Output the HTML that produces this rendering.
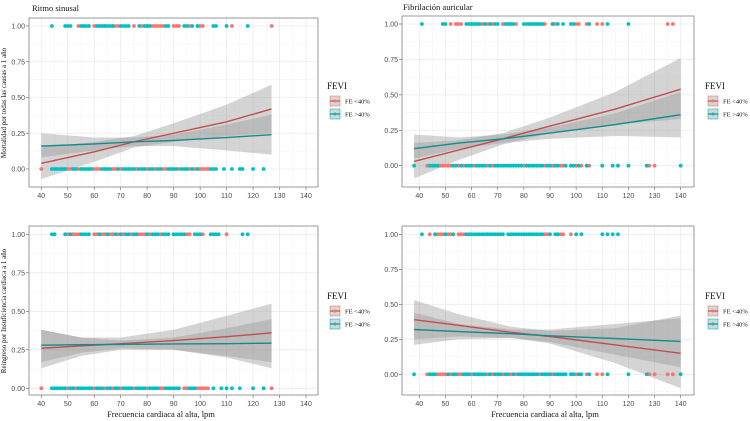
<!DOCTYPE html>
<html><head><meta charset="utf-8"><style>
body{margin:0;background:#fff;}
svg{display:block;font-family:"Liberation Serif",serif;}
</style></head><body>
<svg id="c" width="750" height="421"></svg>
<script>
const xTicks=[40,50,60,70,80,90,100,110,120,130,140];
const yTicks=[0,0.25,0.5,0.75,1];
const yTickLabels=["0.00","0.25","0.50","0.75","1.00"];
const groups=["FE <40%","FE >40%"];
// panel 1: Ritmo sinusal / mortalidad
const p1BandX=[40,60,75,90,110,127];
const p1RedFit=[0.04,0.12,0.19,0.25,0.33,0.42];
const p1RedLo=[-0.07,0.05,0.15,0.19,0.23,0.25];
const p1RedHi=[0.15,0.19,0.23,0.32,0.45,0.59];
const p1TealFit=[0.16,0.175,0.19,0.20,0.22,0.24];
const p1TealLo=[0.08,0.13,0.16,0.16,0.13,0.10];
const p1TealHi=[0.25,0.22,0.22,0.24,0.31,0.38];
const p1Red1=[54,56,60,62,64,67,68,69,75,78,80,82,83,84,85,86,90,91,92,96,100,101,112,127];
const p1Teal1=[44,49,50,51,55,56,57,58,61,62,63,64,65,66,67,70,71,72,73,77,79,80,81,87,88,94,95,97,99,105,106,110,118];
const p1Red0=[40,50,51,54,60,61,62,67,68,70,76,80,83,86,87,92,96,98,100,101,102,103];
const p1Teal0=[44,45,46,47,48,49,52,53,55,56,57,58,59,63,64,65,66,69,71,72,73,74,75,77,78,79,81,82,84,85,88,89,90,91,93,94,95,97,99,104,105,106,109,112,115,116,120,124];
// panel 2: Ritmo sinusal / reingreso
const p2BandX=[40,55,70,90,110,127];
const p2RedFit=[0.26,0.275,0.29,0.31,0.335,0.36];
const p2RedLo=[0.13,0.21,0.25,0.25,0.20,0.13];
const p2RedHi=[0.38,0.33,0.33,0.38,0.47,0.55];
const p2TealFit=[0.28,0.283,0.285,0.288,0.29,0.293];
const p2TealLo=[0.17,0.23,0.26,0.25,0.21,0.17];
const p2TealHi=[0.38,0.33,0.31,0.33,0.39,0.45];
const p2Red1=[50,52,53,54,60,61,63,64,66,67,69,71,74,77,78,79,81,85,95,96,101,110];
const p2Teal1=[44,45,49,51,55,56,57,58,62,65,68,70,72,73,75,76,80,82,83,84,86,87,88,90,91,92,93,94,98,99,100,104,105,106,107,116,118];
const p2Red0=[40,50,53,60,64,67,70,75,80,85,86,94,95,99,100,101,102,103,127];
const p2Teal0=[44,45,46,47,48,49,51,52,54,55,56,57,58,59,61,62,63,65,66,68,69,71,72,73,74,76,77,78,79,81,82,83,84,87,88,89,90,91,92,96,97,98,105,108,110,112,115,120,124];
// panel 3: Fibrilación auricular / mortalidad
const p3BandX=[38,55,72,90,115,140];
const p3RedFit=[0.03,0.11,0.19,0.28,0.40,0.54];
const p3RedLo=[-0.09,0.04,0.15,0.23,0.29,0.33];
const p3RedHi=[0.16,0.18,0.23,0.34,0.52,0.76];
const p3TealFit=[0.12,0.16,0.19,0.23,0.29,0.36];
const p3TealLo=[0.05,0.12,0.16,0.19,0.21,0.20];
const p3TealHi=[0.22,0.20,0.22,0.27,0.37,0.52];
const p3Red1=[52,54,55,56,64,66,68,72,77,88,91,92,100,101,104,108,110,135,137];
const p3Teal1=[41,49,50,58,59,60,61,62,63,65,67,69,70,73,74,75,76,80,81,82,83,84,85,86,87,91,93,95,98,99,105,112,120];
const p3Red0=[43,48,49,50,51,52,55,57,61,66,68,80,88,91,94,95,100,102,105,128,130];
const p3Teal0=[38,44,45,46,47,53,54,56,58,59,60,62,63,64,65,67,69,70,71,72,73,74,75,76,77,78,79,81,82,83,84,85,86,87,89,90,92,93,96,98,99,101,104,110,114,116,120,127,140];
// panel 4: Fibrilación auricular / reingreso
const p4BandX=[38,55,75,90,115,140];
const p4RedFit=[0.39,0.35,0.30,0.27,0.21,0.15];
const p4RedLo=[0.25,0.27,0.26,0.22,0.08,-0.10];
const p4RedHi=[0.53,0.43,0.34,0.31,0.33,0.42];
const p4TealFit=[0.32,0.305,0.29,0.275,0.255,0.235];
const p4TealLo=[0.21,0.25,0.26,0.23,0.14,0.05];
const p4TealHi=[0.44,0.36,0.32,0.32,0.36,0.40];
const p4Red1=[44,47,48,49,51,52,55,56,57,88,89,94,95,98];
const p4Teal1=[41,46,50,53,58,59,60,61,62,63,64,65,66,67,68,69,70,71,72,74,75,76,77,78,79,80,81,82,83,84,85,86,87,90,92,93,100,102,110,112,114,116];
const p4Red0=[43,47,48,49,50,52,55,56,60,66,68,72,75,77,86,91,100,104,108,110,128,130,135,137];
const p4Teal0=[38,44,45,46,51,53,54,57,58,59,61,62,63,64,65,67,69,70,71,73,74,76,78,79,80,81,82,83,84,85,87,88,89,90,92,93,94,95,96,98,99,101,102,105,112,120,127,140];

const RED="#F8766D",TEAL="#00BFC4",RL="#C0504D",TL="#118C8F";
const NS="http://www.w3.org/2000/svg";
const svg=document.getElementById('c');
function mk(t,a,p){const e=document.createElementNS(NS,t);for(const k in a)e.setAttribute(k,a[k]);(p||svg).appendChild(e);return e;}

const panels=[
 {id:"p1",L:29,R:318,T:18,B:187,x0:41.3,x1:306,y1:26,y0:169,d:[p1BandX,p1RedFit,p1RedLo,p1RedHi,p1TealFit,p1TealLo,p1TealHi,p1Red1,p1Teal1,p1Red0,p1Teal0]},
 {id:"p2",L:29,R:318,T:226,B:395,x0:41.3,x1:306,y1:234.3,y0:388.3,d:[p2BandX,p2RedFit,p2RedLo,p2RedHi,p2TealFit,p2TealLo,p2TealHi,p2Red1,p2Teal1,p2Red0,p2Teal0]},
 {id:"p3",L:402,R:694,T:16,B:187,x0:419.3,x1:680.7,y1:24,y0:165.7,d:[p3BandX,p3RedFit,p3RedLo,p3RedHi,p3TealFit,p3TealLo,p3TealHi,p3Red1,p3Teal1,p3Red0,p3Teal0]},
 {id:"p4",L:402,R:694,T:226,B:395,x0:419.3,x1:680.7,y1:234.3,y0:374.3,d:[p4BandX,p4RedFit,p4RedLo,p4RedHi,p4TealFit,p4TealLo,p4TealHi,p4Red1,p4Teal1,p4Red0,p4Teal0]}
];
panels.forEach(p=>{
  const g=mk('g',{});
  
  
  const sx=v=>p.x0+(v-40)*(p.x1-p.x0)/100;
  const sy=v=>p.y0+(v)*(p.y1-p.y0);
  // minor grid
  for(let v=35;v<=145;v+=10){const x=sx(v);if(x>p.L&&x<p.R)mk('line',{x1:x,x2:x,y1:p.T,y2:p.B,stroke:'#f2f2f2','stroke-width':0.5},g);}
  for(let v=-0.125;v<=1.2;v+=0.25){const y=sy(v);if(y>p.T&&y<p.B)mk('line',{x1:p.L,x2:p.R,y1:y,y2:y,stroke:'#f2f2f2','stroke-width':0.5},g);}
  xTicks.forEach(v=>{const x=sx(v);mk('line',{x1:x,x2:x,y1:p.T,y2:p.B,stroke:'#ebebeb','stroke-width':0.8},g);
    mk('line',{x1:x,x2:x,y1:p.B,y2:p.B+3,stroke:'#555','stroke-width':0.6},g);
    const t=mk('text',{x:x,y:p.B+11,'font-size':7,'text-anchor':'middle',fill:'#4d4d4d','font-family':'Liberation Sans,sans-serif'},g);t.textContent=v;
    });
  yTicks.forEach((v,i)=>{const y=sy(v);mk('line',{x1:p.L,x2:p.R,y1:y,y2:y,stroke:'#ebebeb','stroke-width':0.8},g);
    mk('line',{x1:p.L-3,x2:p.L,y1:y,y2:y,stroke:'#555','stroke-width':0.6},g);
    const t=mk('text',{x:p.L-4,y:y+2.5,'font-size':7,'text-anchor':'end',fill:'#4d4d4d','font-family':'Liberation Sans,sans-serif'},g);t.textContent=yTickLabels[i];
    });
  const [bx,rf,rl,rh,tf,tl,th,r1,t1,r0,t0]=p.d;
  const band=(lo,hi,name)=>{let s='';bx.forEach((v,i)=>s+=(i?'L':'M')+sx(v)+','+sy(hi[i]));for(let i=bx.length-1;i>=0;i--)s+='L'+sx(bx[i])+','+sy(lo[i]);
    const e=mk('path',{d:s+'Z',fill:'#999','fill-opacity':0.42},g);};
  band(rl,rh,'ci-band-fe-lt40');band(tl,th,'ci-band-fe-gt40');
  const dots=(arr,val,col,name)=>arr.forEach(v=>{const e=mk('circle',{cx:sx(v),cy:sy(val),r:1.9,fill:col},g);});
  dots(r1,1,RED,'point-fe-lt40');dots(t1,1,TEAL,'point-fe-gt40');dots(r0,0,RED,'point-fe-lt40');dots(t0,0,TEAL,'point-fe-gt40');
  const line=(f,col,name)=>{const e=mk('polyline',{points:bx.map((v,i)=>sx(v)+','+sy(f[i])).join(' '),fill:'none',stroke:col,'stroke-width':1.4},g);};
  line(rf,RL,'fit-line-fe-lt40');line(tf,TL,'fit-line-fe-gt40');
  mk('rect',{x:p.L,y:p.T,width:p.R-p.L,height:p.B-p.T,fill:'none',stroke:'#999','stroke-width':1},g);
});
function txt(s,a,name){const e=mk('text',a);e.textContent=s;return e;}
txt("Ritmo sinusal",{x:32,y:11,'font-size':8.5,fill:'#111'},'panel-title-ritmo');
txt("Fibrilación  auricular",{x:403,y:10,'font-size':8.5,fill:'#111'},'panel-title-fibrilacion');
txt("Mortalidad por todas las causas a 1 año",{x:0,y:0,'font-size':7,fill:'#111','text-anchor':'middle',transform:'translate(6,103) rotate(-90)'},'y-axis-title-top');
txt("Reingreso por Insuficiencia cardiaca a 1 año",{x:0,y:0,'font-size':7,fill:'#111','text-anchor':'middle',transform:'translate(6,311) rotate(-90)'},'y-axis-title-bottom');
txt("Frecuencia cardiaca al alta, lpm",{x:161,y:417,'font-size':8.5,fill:'#111','text-anchor':'middle'},'x-axis-title-left');
txt("Frecuencia cardiaca al alta, lpm",{x:170+375,y:417,'font-size':8.5,fill:'#111','text-anchor':'middle'},'x-axis-title-right');
[[327,89],[327,299],[705,89],[705,299]].forEach(([x,y])=>{
  txt("FEVI",{x:x,y:y,'font-size':9,fill:'#111'},'legend-title');
  [[RED,RL],[TEAL,TL]].forEach((c,i)=>{const yy=y+7+i*13;
    const r=mk('rect',{x:x+3,y:yy,width:10,height:10,fill:'#d6d6d6',stroke:c[0],'stroke-width':0.6});
    mk('line',{x1:x+3,x2:x+13,y1:yy+5,y2:yy+5,stroke:c[1],'stroke-width':1.2});
    mk('circle',{cx:x+8,cy:yy+5,r:1.5,fill:c[0]});
    txt(groups[i],{x:x+18,y:yy+7.5,'font-size':6.5,fill:'#111'},'legend-entry');});
});
</script>
</body></html>
